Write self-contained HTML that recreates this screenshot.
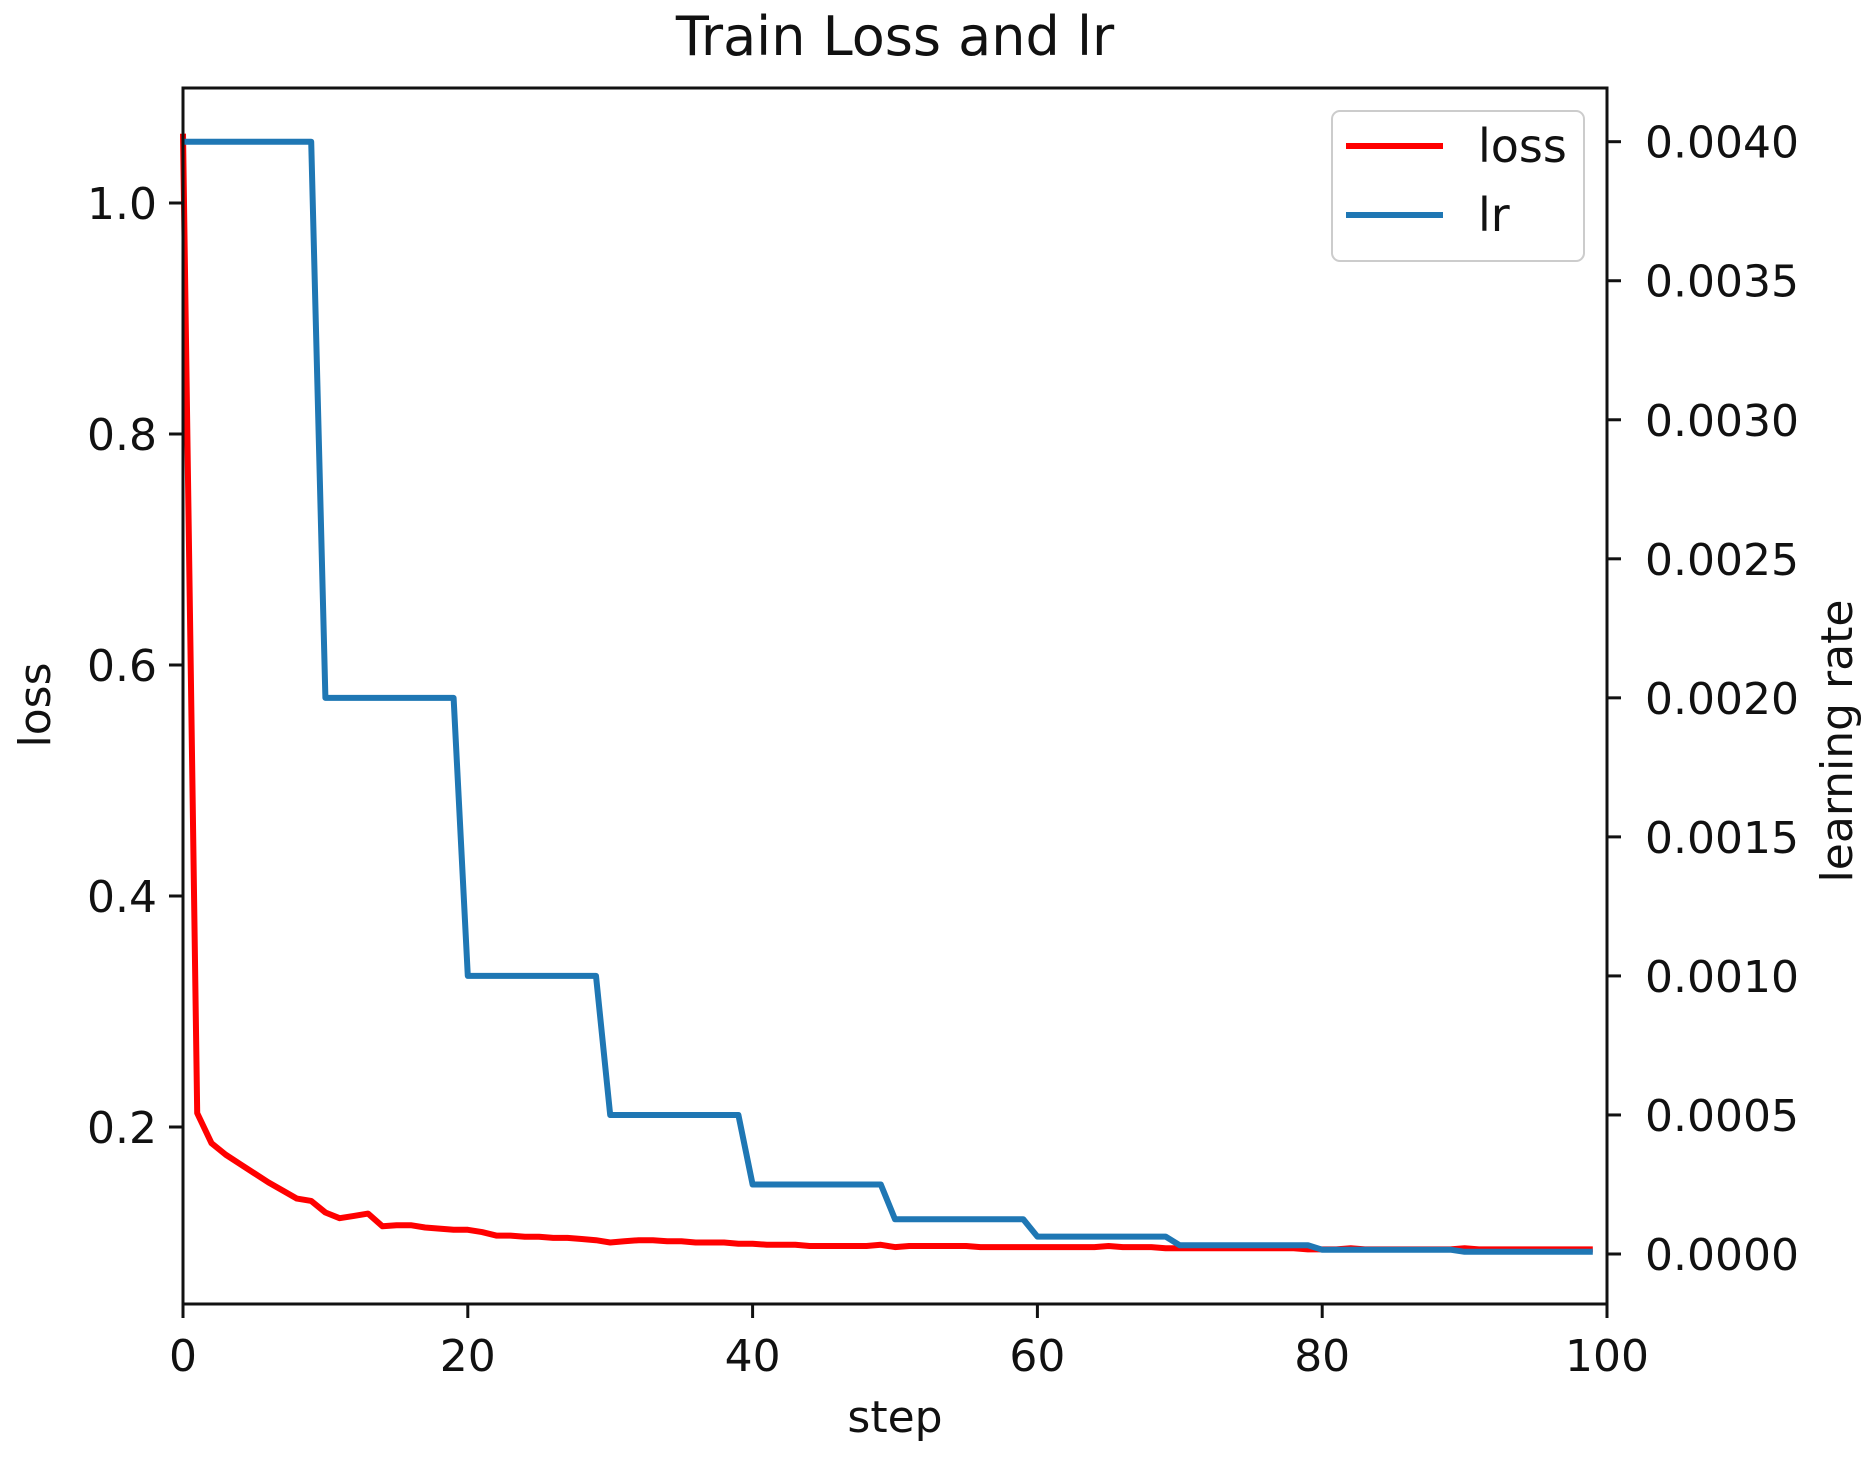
<!DOCTYPE html>
<html><head><meta charset="utf-8"><style>
html,body{margin:0;padding:0;background:#fff;}
svg{display:block;font-family:"DejaVu Sans","Liberation Sans",sans-serif;}
</style></head><body>
<svg id="chart" width="1871" height="1463" viewBox="0 0 1871 1463">
<text x="895" y="55" font-size="54" text-anchor="middle" fill="#111">Train Loss and lr</text>
<g id="marks"></g>
<g id="axes"></g>
<text x="895" y="1432" font-size="44" text-anchor="middle" fill="#111">step</text>
<text transform="translate(50,705) rotate(-90)" font-size="44" text-anchor="middle" fill="#111">loss</text>
<text transform="translate(1852,741) rotate(-90)" font-size="44" text-anchor="middle" fill="#111">learning rate</text>
<g>
<rect x="1332" y="111" width="252" height="150" rx="8" fill="#fff" fill-opacity="0.85" stroke="#ccc" stroke-width="2"/>
<line x1="1346" y1="146" x2="1443" y2="146" stroke="#ff0000" stroke-width="6"/>
<text x="1478" y="162" font-size="46" fill="#111">loss</text>
<line x1="1346" y1="215" x2="1443" y2="215" stroke="#1f77b4" stroke-width="6"/>
<text x="1478" y="231" font-size="46" fill="#111">lr</text>
</g>
</svg>
<script>
const steps = Array.from({length:100},(_,i)=>i);
const lossValues = [1.06,0.212,0.186,0.176,0.168,0.160,0.152,0.145,0.138,0.136,0.126,0.121,0.123,0.125,0.114,0.115,0.115,0.113,0.112,0.111,0.111,0.109,0.106,0.106,0.105,0.105,0.104,0.104,0.103,0.102,0.100,0.101,0.102,0.102,0.101,0.101,0.100,0.100,0.100,0.099,
0.099,0.098,0.098,0.098,0.097,0.097,0.097,0.097,0.097,0.098,0.096,0.097,0.097,0.097,0.097,0.097,0.096,0.096,0.096,0.096,
0.096,0.096,0.096,0.096,0.096,0.097,0.096,0.096,0.096,0.095,0.095,0.095,0.095,0.095,0.095,0.095,0.095,0.095,0.095,0.094,
0.094,0.094,0.095,0.094,0.094,0.094,0.094,0.094,0.094,0.094,0.095,0.094,0.094,0.094,0.094,0.094,0.094,0.094,0.094,0.094];
const lrLevels = [0.004,0.002,0.001,0.0005,0.00025,0.000125,0.0000625,0.00003125,0.0000156,0.0000078];
const xTicks = [0,20,40,60,80,100];
const lossTicks = [0.2,0.4,0.6,0.8,1.0];
const lossTickLabels = ["0.2","0.4","0.6","0.8","1.0"];
const lrTicks = [0,0.0005,0.001,0.0015,0.002,0.0025,0.003,0.0035,0.004];
const lrTickLabels = ["0.0000","0.0005","0.0010","0.0015","0.0020","0.0025","0.0030","0.0035","0.0040"];

const L=183,R=1607,T=88,B=1304;
const xs=v=>L+(v/100)*(R-L);
const yl=v=>203+(1.0-v)*1155;
const yr=v=>1254-(v/0.004)*(1254-141.7);
const NS="http://www.w3.org/2000/svg";
function mk(tag,attrs,parent){const e=document.createElementNS(NS,tag);for(const k in attrs)e.setAttribute(k,attrs[k]);parent.appendChild(e);return e;}
const marks=document.getElementById('marks'), axes=document.getElementById('axes');

const lossPath=mk('path',{d:steps.map((s,i)=>(i?'L':'M')+xs(s).toFixed(1)+','+yl(lossValues[i]).toFixed(1)).join(''),fill:'none',stroke:'#ff0000','stroke-width':6,'stroke-linejoin':'round'},marks);


const lrPath=mk('path',{d:steps.map((s,i)=>(i?'L':'M')+xs(s).toFixed(1)+','+yr(lrLevels[Math.floor(s/10)]).toFixed(1)).join(''),fill:'none',stroke:'#1f77b4','stroke-width':6,'stroke-linejoin':'round'},marks);



const frame=mk('rect',{x:L,y:T,width:R-L,height:B-T,fill:'none',stroke:'#111','stroke-width':3},axes);


xTicks.forEach(t=>{
  const x=xs(t);
  const tk=mk('line',{x1:x,y1:B,x2:x,y2:B+14,stroke:'#111','stroke-width':3},axes);
  
  
  const tx=mk('text',{x:x,y:1371,'font-size':44,'text-anchor':'middle',fill:'#111'},axes);
  tx.textContent=String(t);
  
  
});
lossTicks.forEach((t,i)=>{
  const y=yl(t);
  const tk=mk('line',{x1:L-14,y1:y,x2:L,y2:y,stroke:'#111','stroke-width':3},axes);
  
  
  const tx=mk('text',{x:L-26,y:y+16,'font-size':44,'text-anchor':'end',fill:'#111'},axes);
  tx.textContent=lossTickLabels[i];
  
  
});
lrTicks.forEach((t,i)=>{
  const y=yr(t);
  const tk=mk('line',{x1:R,y1:y,x2:R+14,y2:y,stroke:'#111','stroke-width':3},axes);
  
  
  const tx=mk('text',{x:R+38,y:y+16,'font-size':44,fill:'#111'},axes);
  tx.textContent=lrTickLabels[i];
  
  
});
</script>
</body></html>
